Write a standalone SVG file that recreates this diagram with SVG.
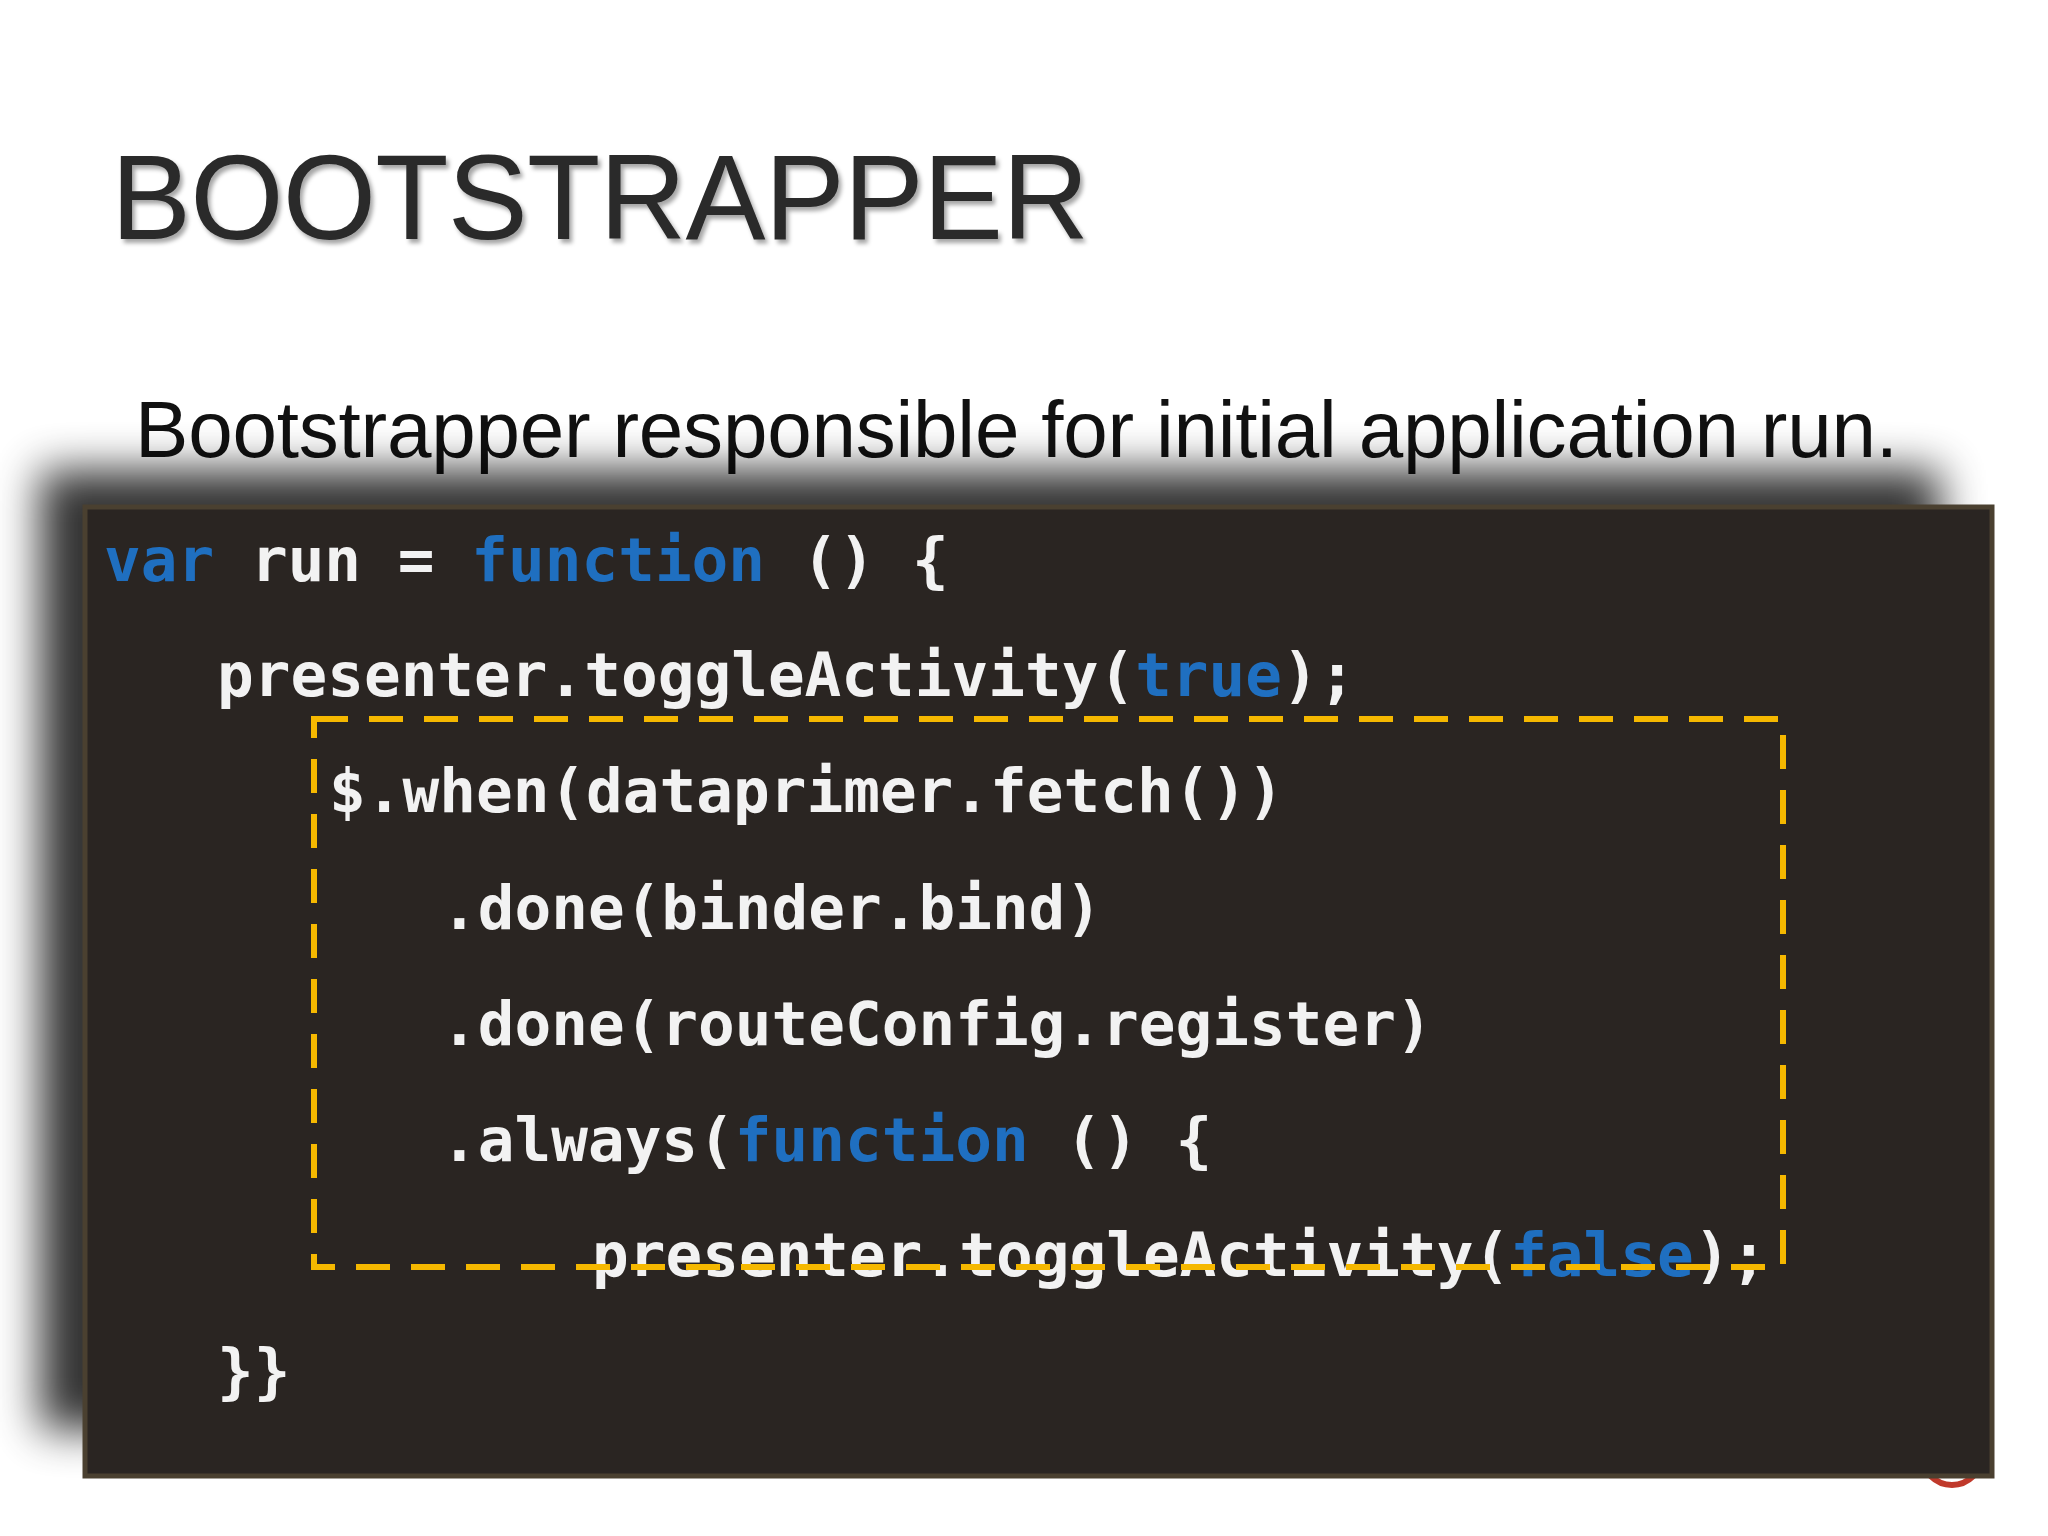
<svg xmlns="http://www.w3.org/2000/svg" width="2048" height="1536" viewBox="0 0 2048 1536">
<defs>
<filter id="blur" x="-10%" y="-20%" width="120%" height="140%"><feGaussianBlur stdDeviation="22"/></filter>
<filter id="tsh" x="-5%" y="-20%" width="110%" height="140%"><feDropShadow dx="3" dy="4" stdDeviation="2" flood-color="#000" flood-opacity="0.35"/></filter>
<style>
.code{font-family:"DejaVu Sans Mono","Liberation Mono",monospace;font-size:61px;font-weight:bold;fill:#f2f2f2}
.kw{fill:#1f6fc0}
</style>
</defs>
<rect width="2048" height="1536" fill="#ffffff"/>
<g id="title"><text x="111" y="239" font-family="Liberation Sans, Arial, sans-serif" font-size="120" fill="#2a2a2a" textLength="978" filter="url(#tsh)">BOOTSTRAPPER</text></g>
<g id="subtitle"><text x="135" y="457" font-family="Liberation Sans, Arial, sans-serif" font-size="80" fill="#111" textLength="1763">Bootstrapper responsible for initial application run.</text></g>
<circle cx="1952" cy="1455" r="30" fill="none" stroke="#c0392b" stroke-width="6"/>
<rect x="40" y="470" width="1900" height="960" fill="#000" opacity="0.8" filter="url(#blur)"/>
<g id="codebox">
<rect x="85" y="507" width="1907" height="969" fill="#2a2522" stroke="#4a4030" stroke-width="5"/>
<text class="code" x="104" y="581"><tspan class="kw">var</tspan> run = <tspan class="kw">function</tspan> () {</text>
<text class="code" x="217" y="696">presenter.toggleActivity(<tspan class="kw">true</tspan>);</text>
<text class="code" x="329" y="812">$.when(dataprimer.fetch())</text>
<text class="code" x="441" y="929">.done(binder.bind)</text>
<text class="code" x="441" y="1045">.done(routeConfig.register)</text>
<text class="code" x="441" y="1161">.always(<tspan class="kw">function</tspan> () {</text>
<text class="code" x="592" y="1276">presenter.toggleActivity(<tspan class="kw">false</tspan>);</text>
<text class="code" x="217" y="1392">}}</text>
</g>
<g id="connectors">
<rect x="314" y="719" width="1469" height="548" fill="none" stroke="#f5b800" stroke-width="6" stroke-dasharray="34,21"/>
</g>
</svg>
